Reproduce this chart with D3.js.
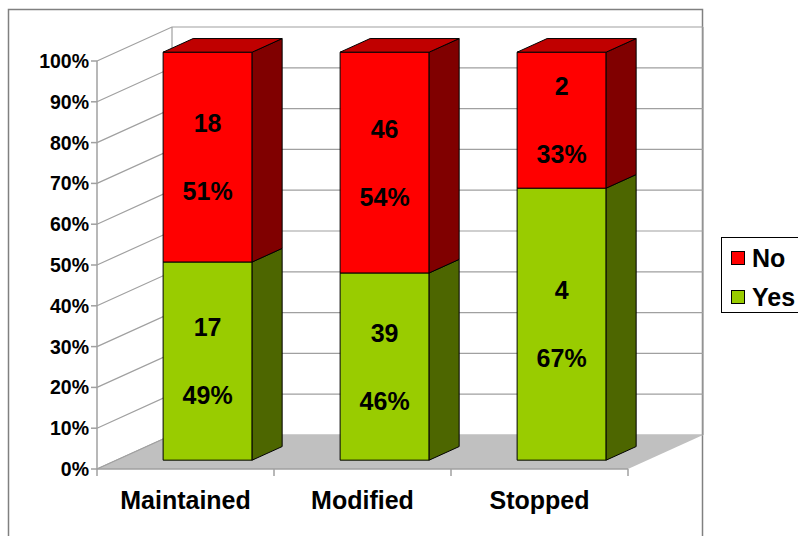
<!DOCTYPE html>
<html>
<head>
<meta charset="utf-8">
<script src="https://d3js.org/d3.v7.min.js"></script>
<style>
  html, body { margin: 0; padding: 0; background: #fff; }
  svg { display: block; font-family: "Liberation Sans", Arial, sans-serif; font-weight: bold; }
</style>
</head>
<body>
<svg id="chart" width="798" height="536"></svg>
<script>
// data
var categories = ["Maintained", "Modified", "Stopped"];
var yesCounts = [17, 39, 4];
var noCounts = [18, 46, 2];
var yTicks = [0, 0.1, 0.2, 0.3, 0.4, 0.5, 0.6, 0.7, 0.8, 0.9, 1];
var legendNames = ["No", "Yes"];

var width = 798, height = 536;
var svg = d3.select("#chart");

// depth of the 3d box (front plane -> back wall)
var depthX = 75, depthY = -34;
var z1 = 0.26, z2 = 0.66; // bar front / back face depth

var xScale = d3.scaleBand()
  .domain(categories)
  .range([97, 628])
  .paddingInner(0.497)
  .paddingOuter(0.2485)
  .align(0.53);
var yScale = d3.scaleLinear().domain([0, 1]).range([469, 61]);

function proj(x, y, z) { return [x + z * depthX, y + z * depthY]; }
function poly(pts) { return pts.map(function (p) { return p.join(","); }).join(" "); }

var gridColor = "#a0a0a0";

// chart area border
svg.append("rect")
  .attr("x", 8.5).attr("y", 9.5).attr("width", 694).attr("height", 540)
  .attr("fill", "#fff").attr("stroke", "#808080").attr("stroke-width", 1.5);

var x0 = 97, x1 = 628;

// walls gridlines
var grid = svg.append("g").attr("stroke", gridColor).attr("stroke-width", 1.2).attr("fill", "none");
yTicks.forEach(function (t) {
  var y = yScale(t);
  var a = proj(x0, y, 0), b = proj(x0, y, 1), c = proj(x1, y, 1);
  grid.append("polyline").attr("points", poly([a, b, c]));
});
var bl = proj(x0, yScale(0), 1), tl = proj(x0, yScale(1), 1);
grid.append("line").attr("x1", bl[0]).attr("y1", bl[1]).attr("x2", tl[0]).attr("y2", tl[1]);
var br = proj(x1, yScale(0), 1), tr = proj(x1, yScale(1), 1);
grid.append("line").attr("x1", br[0]).attr("y1", br[1]).attr("x2", tr[0]).attr("y2", tr[1]);

// floor
svg.append("polygon")
  .attr("points", poly([proj(x0, yScale(0), 0), proj(x1, yScale(0), 0), proj(x1, yScale(0), 1), proj(x0, yScale(0), 1)]))
  .attr("fill", "#c0c0c0").attr("stroke", "none");
svg.append("line")
  .attr("x1", x0).attr("y1", yScale(0)).attr("x2", bl[0]).attr("y2", bl[1])
  .attr("stroke", gridColor).attr("stroke-width", 1.2);

// axes
svg.append("line").attr("x1", x0).attr("y1", yScale(0)).attr("x2", x0).attr("y2", yScale(1))
  .attr("stroke", gridColor).attr("stroke-width", 1.5);
svg.append("line").attr("x1", x0).attr("y1", yScale(0)).attr("x2", x1).attr("y2", yScale(0))
  .attr("stroke", gridColor).attr("stroke-width", 1.5);

var yAxis = svg.append("g");
yTicks.forEach(function (t) {
  var y = yScale(t);
  yAxis.append("line").attr("x1", x0 - 6).attr("x2", x0).attr("y1", y).attr("y2", y)
    .attr("stroke", gridColor).attr("stroke-width", 1.5);
  yAxis.append("text").attr("x", 89).attr("y", y).attr("dy", "0.36em")
    .attr("text-anchor", "end").attr("font-size", "19.5px").text(d3.format(".0%")(t));
});

var step = xScale.step();
var boundaries = d3.range(categories.length + 1).map(function (i) { return x0 + i * step; });
boundaries.forEach(function (bx) {
  svg.append("line").attr("x1", bx).attr("x2", bx).attr("y1", yScale(0)).attr("y2", yScale(0) + 7)
    .attr("stroke", gridColor).attr("stroke-width", 1.5);
});
categories.forEach(function (c, i) {
  svg.append("text").attr("x", x0 + step * (i + 0.5)).attr("y", 509)
    .attr("text-anchor", "middle").attr("font-size", "25px").text(c);
});

// bars
var colors = {
  yes: { front: "#99cc00", side: "#4d6600", top: "#739900" },
  no: { front: "#ff0000", side: "#800000", top: "#c00000" }
};

function drawBox(g, bx, bw, v0, v1, col, showTop) {
  var ya = yScale(v0), yb = yScale(v1);
  var f = [proj(bx, yb, z1), proj(bx + bw, yb, z1), proj(bx + bw, ya, z1), proj(bx, ya, z1)];
  var s = [proj(bx + bw, yb, z1), proj(bx + bw, yb, z2), proj(bx + bw, ya, z2), proj(bx + bw, ya, z1)];
  g.append("polygon").attr("points", poly(f)).attr("fill", col.front);
  g.append("polygon").attr("points", poly(s)).attr("fill", col.side);
  if (showTop) {
    var t = [proj(bx, yb, z1), proj(bx, yb, z2), proj(bx + bw, yb, z2), proj(bx + bw, yb, z1)];
    g.append("polygon").attr("points", poly(t)).attr("fill", col.top);
  }
  return f;
}

var bars = svg.append("g").attr("stroke", "#000").attr("stroke-width", 1).attr("stroke-linejoin", "round");
var labels = svg.append("g").attr("font-size", "25px").attr("text-anchor", "middle");
categories.forEach(function (c, i) {
  var total = yesCounts[i] + noCounts[i];
  var pYes = yesCounts[i] / total;
  var bx = xScale(c), bw = xScale.bandwidth();
  drawBox(bars, bx, bw, 0, pYes, colors.yes, false);
  drawBox(bars, bx, bw, pYes, 1, colors.no, true);

  var cx = proj(bx + bw / 2, 0, z1)[0];
  var segs = [[0, pYes, yesCounts[i]], [pYes, 1, noCounts[i]]];
  segs.forEach(function (sg) {
    var cy = (proj(0, yScale(sg[0]), z1)[1] + proj(0, yScale(sg[1]), z1)[1]) / 2;
    labels.append("text").attr("x", cx).attr("y", cy - 34).attr("dy", "0.36em").text(sg[2]);
    labels.append("text").attr("x", cx).attr("y", cy + 34).attr("dy", "0.36em")
      .text(Math.round(sg[2] / total * 100) + "%");
  });
});

// legend
var legend = svg.append("g");
legend.append("rect").attr("x", 721.5).attr("y", 237.5).attr("width", 100).attr("height", 75)
  .attr("fill", "#fff").attr("stroke", "#000").attr("stroke-width", 1);
var legendColors = [colors.no.front, colors.yes.front];
legendNames.forEach(function (n, i) {
  var y = 251 + i * 39;
  legend.append("rect").attr("x", 731.5).attr("y", y + 0.5).attr("width", 13).attr("height", 13)
    .attr("fill", legendColors[i]).attr("stroke", "#000").attr("stroke-width", 1);
  legend.append("text").attr("x", 752).attr("y", y + 7).attr("dy", "0.36em")
    .attr("font-size", "25px").text(n);
});
</script>
</body>
</html>
